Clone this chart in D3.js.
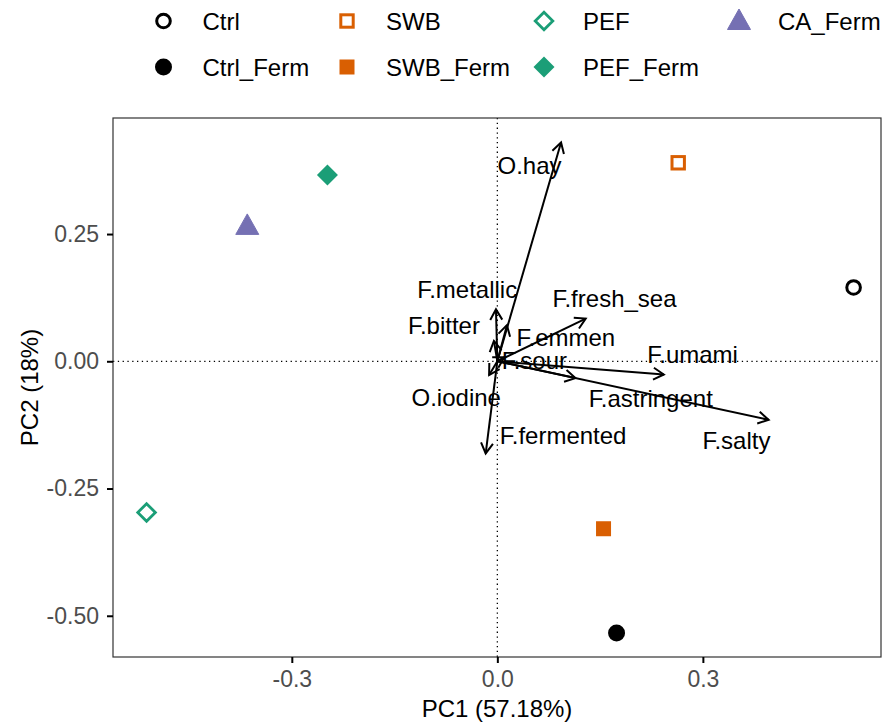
<!DOCTYPE html>
<html>
<head>
<meta charset="utf-8">
<script src="https://cdn.jsdelivr.net/npm/d3@7"></script>
<style>
  html, body { margin: 0; padding: 0; background: #fff; }
  svg text { font-family: "Liberation Sans", Arial, Helvetica, sans-serif; }
</style>
</head>
<body>
<svg id="chart" width="882" height="724"></svg>
<script>
// ---- data ----
const groups = ["Ctrl", "Ctrl_Ferm", "SWB", "SWB_Ferm", "PEF", "PEF_Ferm", "CA_Ferm"];
const pc1 = [0.520, 0.174, 0.264, 0.155, -0.512, -0.248, -0.365];
const pc2 = [0.145, -0.534, 0.390, -0.329, -0.297, 0.366, 0.266];
const groupColors = ["#000000", "#000000", "#D95F02", "#D95F02", "#1B9E77", "#1B9E77", "#7570B3"];
const groupShapes = ["circleOpen", "circle", "squareOpen", "square", "diamondOpen", "diamond", "triangle"];

const variables = ["O.hay", "F.metallic", "F.bitter", "F.emmen", "F.sour", "F.fresh_sea", "F.umami", "F.astringent", "F.salty", "O.iodine", "F.fermented"];
const loadX = [0.093, -0.002, -0.005, 0.014, 0.010, 0.129, 0.243, 0.114, 0.396, -0.012, -0.017];
const loadY = [0.430, 0.102, 0.040, 0.071, 0.008, 0.084, -0.026, -0.033, -0.115, -0.027, -0.181];
// label positions (data units, repelled)
const labX = [0.047, -0.044, -0.078, 0.100, 0.054, 0.171, 0.285, 0.224, 0.349, -0.060, 0.096];
const labY = [0.385, 0.142, 0.071, 0.047, 0.001, 0.124, 0.014, -0.074, -0.156, -0.072, -0.146];

const xTicks = [-0.3, 0.0, 0.3];
const yTicks = [0.25, 0.00, -0.25, -0.50];
const xDomain = [-0.561, 0.560];
const yDomain = [-0.581, 0.478];

// ---- layout ----
const svg = d3.select("#chart");
const L = 113, R = 881, T = 118, B = 657;
const x = d3.scaleLinear().domain(xDomain).range([L, R]);
const y = d3.scaleLinear().domain(yDomain).range([B, T]);

// reference lines
svg.append("line").attr("x1", x(0)).attr("x2", x(0)).attr("y1", T).attr("y2", B)
  .attr("stroke", "#000").attr("stroke-width", 1.3).attr("stroke-dasharray", "1.3,3.5");
svg.append("line").attr("x1", L).attr("x2", R).attr("y1", y(0)).attr("y2", y(0))
  .attr("stroke", "#000").attr("stroke-width", 1.3).attr("stroke-dasharray", "1.3,3.5");

// arrows
const ag = svg.append("g");
variables.forEach((v, i) => {
  const x0 = x(0), y0 = y(0), x1 = x(loadX[i]), y1 = y(loadY[i]);
  ag.append("line").attr("x1", x0).attr("y1", y0).attr("x2", x1).attr("y2", y1)
    .attr("stroke", "#000").attr("stroke-width", 2);
  const ang = Math.atan2(y1 - y0, x1 - x0);
  const hl = 12, ha = Math.PI / 6;
  const p1 = [x1 - hl * Math.cos(ang - ha), y1 - hl * Math.sin(ang - ha)];
  const p2 = [x1 - hl * Math.cos(ang + ha), y1 - hl * Math.sin(ang + ha)];
  ag.append("path").attr("d", `M${p1[0]},${p1[1]}L${x1},${y1}L${p2[0]},${p2[1]}`)
    .attr("fill", "none").attr("stroke", "#000").attr("stroke-width", 2)
    .attr("stroke-linejoin", "miter");
});
// labels
variables.forEach((v, i) => {
  svg.append("text").attr("x", x(labX[i])).attr("y", y(labY[i]))
    .attr("text-anchor", "middle").attr("dominant-baseline", "central")
    .attr("font-size", 24).attr("fill", "#000").text(v);
});

// shapes
function drawShape(g, shape, cx, cy, color) {
  switch (shape) {
    case "circleOpen":
      g.append("circle").attr("cx", cx).attr("cy", cy).attr("r", 6.8)
        .attr("fill", "none").attr("stroke", color).attr("stroke-width", 3); break;
    case "circle":
      g.append("circle").attr("cx", cx).attr("cy", cy).attr("r", 8.5).attr("fill", color); break;
    case "squareOpen":
      g.append("rect").attr("x", cx - 6.2).attr("y", cy - 6.2).attr("width", 12.4).attr("height", 12.4)
        .attr("fill", "none").attr("stroke", color).attr("stroke-width", 3); break;
    case "square":
      g.append("rect").attr("x", cx - 7.5).attr("y", cy - 7.5).attr("width", 15).attr("height", 15).attr("fill", color); break;
    case "diamondOpen":
      g.append("path").attr("d", `M${cx},${cy - 8.8}L${cx + 8.8},${cy}L${cx},${cy + 8.8}L${cx - 8.8},${cy}Z`)
        .attr("fill", "none").attr("stroke", color).attr("stroke-width", 2.8); break;
    case "diamond":
      g.append("path").attr("d", `M${cx},${cy - 10.5}L${cx + 10.5},${cy}L${cx},${cy + 10.5}L${cx - 10.5},${cy}Z`)
        .attr("fill", color); break;
    case "triangle":
      g.append("path").attr("d", `M${cx},${cy - 12}L${cx + 11.5},${cy + 8.5}L${cx - 11.5},${cy + 8.5}Z`)
        .attr("fill", color).attr("stroke", color).attr("stroke-width", 1).attr("stroke-linejoin", "round"); break;
  }
}
const pg = svg.append("g");
groups.forEach((gname, i) => drawShape(pg, groupShapes[i], x(pc1[i]), y(pc2[i]), groupColors[i]));

// panel border
svg.append("rect").attr("x", L).attr("y", T).attr("width", R - L).attr("height", B - T)
  .attr("fill", "none").attr("stroke", "#333333").attr("stroke-width", 1.2);

// axes
const xAxis = svg.append("g").attr("transform", `translate(0,${B})`)
  .call(d3.axisBottom(x).tickValues(xTicks).tickFormat(d3.format(".1f")).tickSize(6).tickPadding(8));
const yAxis = svg.append("g").attr("transform", `translate(${L},0)`)
  .call(d3.axisLeft(y).tickValues(yTicks).tickFormat(d3.format(".2f")).tickSize(6).tickPadding(8));
[xAxis, yAxis].forEach(a => {
  a.select(".domain").remove();
  a.selectAll(".tick line").attr("stroke", "#000").attr("stroke-width", 2);
  a.selectAll(".tick text").attr("font-size", 23).attr("fill", "#4D4D4D")
    .attr("font-family", "Liberation Sans, Arial, sans-serif");
});
xAxis.selectAll(".tick text").text(d => d3.format(".1f")(d).replace("−", "-"));
yAxis.selectAll(".tick text").text(d => d3.format(".2f")(d).replace("−", "-"));

// axis titles
svg.append("text").attr("x", (L + R) / 2).attr("y", 717).attr("text-anchor", "middle")
  .attr("font-size", 24).attr("fill", "#000").text("PC1 (57.18%)");
svg.append("text").attr("transform", `translate(38,${(T + B) / 2}) rotate(-90)`)
  .attr("text-anchor", "middle").attr("font-size", 24).attr("fill", "#000").text("PC2 (18%)");

// legend
const legendOrder = ["Ctrl", "SWB", "PEF", "CA_Ferm", "Ctrl_Ferm", "SWB_Ferm", "PEF_Ferm"];
const legColX = [163.5, 347, 544, 739];
const legRowY = [21, 67];
const lg = svg.append("g");
legendOrder.forEach((name, k) => {
  const i = groups.indexOf(name);
  const col = k % 4, row = Math.floor(k / 4);
  const cx = legColX[col], cy = legRowY[row];
  drawShape(lg, groupShapes[i], cx, cy, groupColors[i]);
  lg.append("text").attr("x", cx + 39).attr("y", cy).attr("dominant-baseline", "central")
    .attr("font-size", 24).attr("fill", "#000").text(name);
});
</script>
</body>
</html>
